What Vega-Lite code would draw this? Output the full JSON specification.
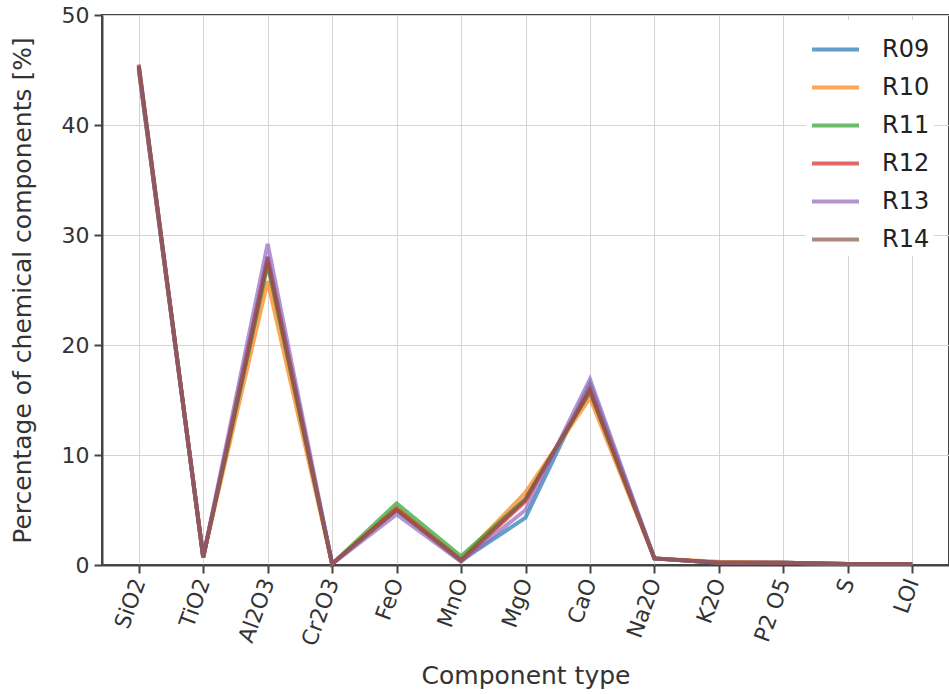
{
  "$schema": "https://vega.github.io/schema/vega-lite/v6.json",
  "width": 847,
  "height": 550,
  "autosize": {"type": "none"},
  "padding": {"left": 102, "top": 15, "right": 0, "bottom": 129},
  "background": "white",
  "config": {
    "font": "DejaVu Sans",
    "view": {"stroke": "#444444", "strokeWidth": 2},
    "axis": {
      "labelFont": "DejaVu Sans",
      "titleFont": "DejaVu Sans",
      "labelColor": "#333333",
      "titleColor": "#333333",
      "labelFontSize": 22,
      "titleFontSize": 25,
      "titleFontWeight": "normal",
      "domainColor": "#444444",
      "domainWidth": 2,
      "tickColor": "#444444",
      "tickWidth": 2,
      "tickSize": 8,
      "gridColor": "#d4d4d4",
      "gridWidth": 1
    }
  },
  "data": {
    "values": [
      {"component": "SiO2", "sample": "R09", "value": 45.3},
      {"component": "TiO2", "sample": "R09", "value": 0.7},
      {"component": "Al2O3", "sample": "R09", "value": 28.0},
      {"component": "Cr2O3", "sample": "R09", "value": 0.1},
      {"component": "FeO", "sample": "R09", "value": 5.0},
      {"component": "MnO", "sample": "R09", "value": 0.4},
      {"component": "MgO", "sample": "R09", "value": 4.3},
      {"component": "CaO", "sample": "R09", "value": 16.5},
      {"component": "Na2O", "sample": "R09", "value": 0.6},
      {"component": "K2O", "sample": "R09", "value": 0.2},
      {"component": "P2 O5", "sample": "R09", "value": 0.2},
      {"component": "S", "sample": "R09", "value": 0.1},
      {"component": "LOI", "sample": "R09", "value": 0.1},

      {"component": "SiO2", "sample": "R10", "value": 45.0},
      {"component": "TiO2", "sample": "R10", "value": 0.8},
      {"component": "Al2O3", "sample": "R10", "value": 25.8},
      {"component": "Cr2O3", "sample": "R10", "value": 0.1},
      {"component": "FeO", "sample": "R10", "value": 5.2},
      {"component": "MnO", "sample": "R10", "value": 0.5},
      {"component": "MgO", "sample": "R10", "value": 6.6},
      {"component": "CaO", "sample": "R10", "value": 15.2},
      {"component": "Na2O", "sample": "R10", "value": 0.6},
      {"component": "K2O", "sample": "R10", "value": 0.3},
      {"component": "P2 O5", "sample": "R10", "value": 0.2},
      {"component": "S", "sample": "R10", "value": 0.1},
      {"component": "LOI", "sample": "R10", "value": 0.1},

      {"component": "SiO2", "sample": "R11", "value": 45.2},
      {"component": "TiO2", "sample": "R11", "value": 0.7},
      {"component": "Al2O3", "sample": "R11", "value": 27.3},
      {"component": "Cr2O3", "sample": "R11", "value": 0.1},
      {"component": "FeO", "sample": "R11", "value": 5.6},
      {"component": "MnO", "sample": "R11", "value": 0.8},
      {"component": "MgO", "sample": "R11", "value": 6.0},
      {"component": "CaO", "sample": "R11", "value": 15.8},
      {"component": "Na2O", "sample": "R11", "value": 0.6},
      {"component": "K2O", "sample": "R11", "value": 0.2},
      {"component": "P2 O5", "sample": "R11", "value": 0.2},
      {"component": "S", "sample": "R11", "value": 0.1},
      {"component": "LOI", "sample": "R11", "value": 0.1},

      {"component": "SiO2", "sample": "R12", "value": 45.4},
      {"component": "TiO2", "sample": "R12", "value": 0.7},
      {"component": "Al2O3", "sample": "R12", "value": 28.0},
      {"component": "Cr2O3", "sample": "R12", "value": 0.1},
      {"component": "FeO", "sample": "R12", "value": 5.1},
      {"component": "MnO", "sample": "R12", "value": 0.4},
      {"component": "MgO", "sample": "R12", "value": 5.8},
      {"component": "CaO", "sample": "R12", "value": 16.0},
      {"component": "Na2O", "sample": "R12", "value": 0.6},
      {"component": "K2O", "sample": "R12", "value": 0.2},
      {"component": "P2 O5", "sample": "R12", "value": 0.2},
      {"component": "S", "sample": "R12", "value": 0.1},
      {"component": "LOI", "sample": "R12", "value": 0.1},

      {"component": "SiO2", "sample": "R13", "value": 45.1},
      {"component": "TiO2", "sample": "R13", "value": 0.7},
      {"component": "Al2O3", "sample": "R13", "value": 29.2},
      {"component": "Cr2O3", "sample": "R13", "value": 0.1},
      {"component": "FeO", "sample": "R13", "value": 4.6},
      {"component": "MnO", "sample": "R13", "value": 0.3},
      {"component": "MgO", "sample": "R13", "value": 5.0},
      {"component": "CaO", "sample": "R13", "value": 16.9},
      {"component": "Na2O", "sample": "R13", "value": 0.6},
      {"component": "K2O", "sample": "R13", "value": 0.2},
      {"component": "P2 O5", "sample": "R13", "value": 0.2},
      {"component": "S", "sample": "R13", "value": 0.1},
      {"component": "LOI", "sample": "R13", "value": 0.1},

      {"component": "SiO2", "sample": "R14", "value": 45.5},
      {"component": "TiO2", "sample": "R14", "value": 0.7},
      {"component": "Al2O3", "sample": "R14", "value": 27.5},
      {"component": "Cr2O3", "sample": "R14", "value": 0.1},
      {"component": "FeO", "sample": "R14", "value": 5.0},
      {"component": "MnO", "sample": "R14", "value": 0.4},
      {"component": "MgO", "sample": "R14", "value": 6.0},
      {"component": "CaO", "sample": "R14", "value": 15.8},
      {"component": "Na2O", "sample": "R14", "value": 0.6},
      {"component": "K2O", "sample": "R14", "value": 0.2},
      {"component": "P2 O5", "sample": "R14", "value": 0.2},
      {"component": "S", "sample": "R14", "value": 0.1},
      {"component": "LOI", "sample": "R14", "value": 0.1}
    ]
  },
  "mark": {"type": "line", "strokeWidth": 4, "opacity": 0.7},
  "encoding": {
    "x": {
      "field": "component",
      "type": "nominal",
      "sort": null,
      "scale": {"type": "point", "padding": 0.57},
      "axis": {
        "title": "Component type",
        "labelAngle": -70,
        "labelAlign": "right",
        "labelBaseline": "middle",
        "labelPadding": 6,
        "titleY": 110,
        "titleBaseline": "middle",
        "grid": true
      }
    },
    "y": {
      "field": "value",
      "type": "quantitative",
      "scale": {"domain": [0, 50], "nice": false, "zero": true},
      "axis": {
        "title": "Percentage of chemical components [%]",
        "values": [0, 10, 20, 30, 40, 50],
        "titleX": -80,
        "titleBaseline": "middle",
        "labelPadding": 5,
        "grid": true
      }
    },
    "color": {
      "field": "sample",
      "type": "nominal",
      "scale": {
        "domain": ["R09", "R10", "R11", "R12", "R13", "R14"],
        "range": ["#1f77b4", "#ff7f0e", "#2ca02c", "#d62728", "#9467bd", "#8c564b"]
      },
      "legend": {
        "title": null,
        "orient": "none",
        "legendX": 704,
        "legendY": 5,
        "symbolType": "stroke",
        "symbolSize": 2209,
        "symbolStrokeWidth": 4,
        "symbolOpacity": 0.7,
        "labelFontSize": 24,
        "labelColor": "#222222",
        "labelFont": "DejaVu Sans",
        "rowPadding": 0,
        "labelOffset": 21,
        "fillColor": "white",
        "padding": 4
      }
    }
  }
}
